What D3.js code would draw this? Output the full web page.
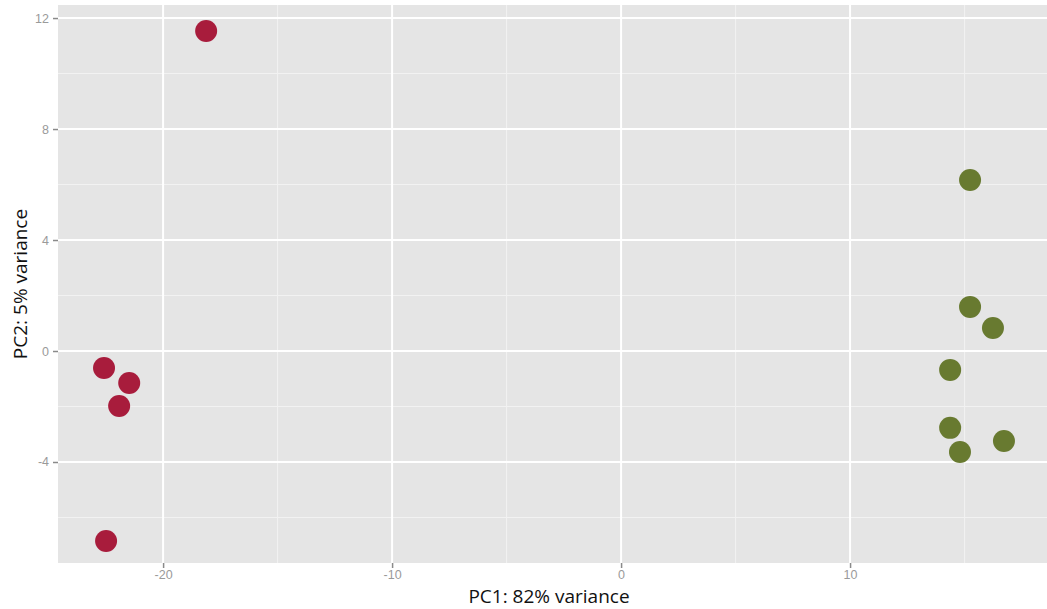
<!DOCTYPE html>
<html><head><meta charset="utf-8">
<script src="https://cdn.jsdelivr.net/npm/d3@7"></script>
<style>body{margin:0;background:#fff}svg{display:block}</style>
</head><body>
<script>
const groupA_x = [-18.12, -22.58, -21.48, -21.92, -22.49];
const groupA_y = [11.53, -0.61, -1.15, -1.98, -6.85];
const groupB_x = [15.24, 15.24, 16.24, 14.37, 14.37, 14.80, 16.72];
const groupB_y = [6.16, 1.59, 0.83, -0.68, -2.77, -3.64, -3.24];
const xTicks = [-20, -10, 0, 10];
const yTicks = [-4, 0, 4, 8, 12];
const xMinor = [-15, -5, 5, 15];
const yMinor = [-6, -2, 2, 6, 10];
const xLabel = "PC1: 82% variance";
const yLabel = "PC2: 5% variance";

const W = 1047, H = 609;
const m = {l: 58, r: 0, t: 5, b: 46};
const svg = d3.select("body").append("svg").attr("width", W).attr("height", H);
const x = d3.scaleLinear().domain([-24.59, 18.6]).range([m.l, W - m.r]);
const y = d3.scaleLinear().domain([-7.64, 12.47]).range([H - m.b, m.t]);

svg.append("rect").attr("x", m.l).attr("y", m.t).attr("width", W - m.r - m.l).attr("height", H - m.b - m.t).attr("fill", "#e5e5e5");
const g = svg.append("g");
g.selectAll(".xm").data(xMinor).join("line").attr("x1", d => x(d)).attr("x2", d => x(d)).attr("y1", m.t).attr("y2", H - m.b).attr("stroke", "#f2f2f2").attr("stroke-width", 1);
g.selectAll(".ym").data(yMinor).join("line").attr("y1", d => y(d)).attr("y2", d => y(d)).attr("x1", m.l).attr("x2", W - m.r).attr("stroke", "#f2f2f2").attr("stroke-width", 1);
g.selectAll(".xM").data(xTicks).join("line").attr("x1", d => x(d)).attr("x2", d => x(d)).attr("y1", m.t).attr("y2", H - m.b).attr("stroke", "#fff").attr("stroke-width", 2);
g.selectAll(".yM").data(yTicks).join("line").attr("y1", d => y(d)).attr("y2", d => y(d)).attr("x1", m.l).attr("x2", W - m.r).attr("stroke", "#fff").attr("stroke-width", 2);

const xa = svg.append("g").attr("transform", `translate(0,${H - m.b})`)
  .call(d3.axisBottom(x).tickValues(xTicks).tickSize(5).tickPadding(2).tickFormat(d3.format("d")));
const ya = svg.append("g").attr("transform", `translate(${m.l},0)`)
  .call(d3.axisLeft(y).tickValues(yTicks).tickSize(5).tickPadding(4).tickFormat(d3.format("d")));
[xa, ya].forEach(a => {
  a.select(".domain").remove();
  a.selectAll("line").attr("stroke", "#8a8a8a").attr("stroke-width", 1.5);
  a.selectAll("text").attr("fill", "#9a9a9a").attr("font-size", 12.5).attr("font-family", "Liberation Sans, Arial, sans-serif");
});
xa.selectAll("text").text(d => d < 0 ? "-" + Math.abs(d) : d);
ya.selectAll("text").text(d => d < 0 ? "-" + Math.abs(d) : d);

const ptsA = groupA_x.map((v, i) => ({x: v, y: groupA_y[i]}));
const ptsB = groupB_x.map((v, i) => ({x: v, y: groupB_y[i]}));
svg.append("g").selectAll("circle").data(ptsA).join("circle").attr("cx", d => x(d.x)).attr("cy", d => y(d.y)).attr("r", 11).attr("fill", "#a81c3c");
svg.append("g").selectAll("circle").data(ptsB).join("circle").attr("cx", d => x(d.x)).attr("cy", d => y(d.y)).attr("r", 11).attr("fill", "#687a30");

svg.append("text").attr("x", 549).attr("y", 603).attr("text-anchor", "middle")
  .attr("font-family", "Open Sans, sans-serif").attr("font-size", 19).attr("fill", "#111").text(xLabel);
svg.append("text").attr("transform", `translate(27,${(m.t + H - m.b) / 2}) rotate(-90)`).attr("text-anchor", "middle")
  .attr("font-family", "Open Sans, sans-serif").attr("font-size", 19).attr("fill", "#111").text(yLabel);
</script>
</body></html>
